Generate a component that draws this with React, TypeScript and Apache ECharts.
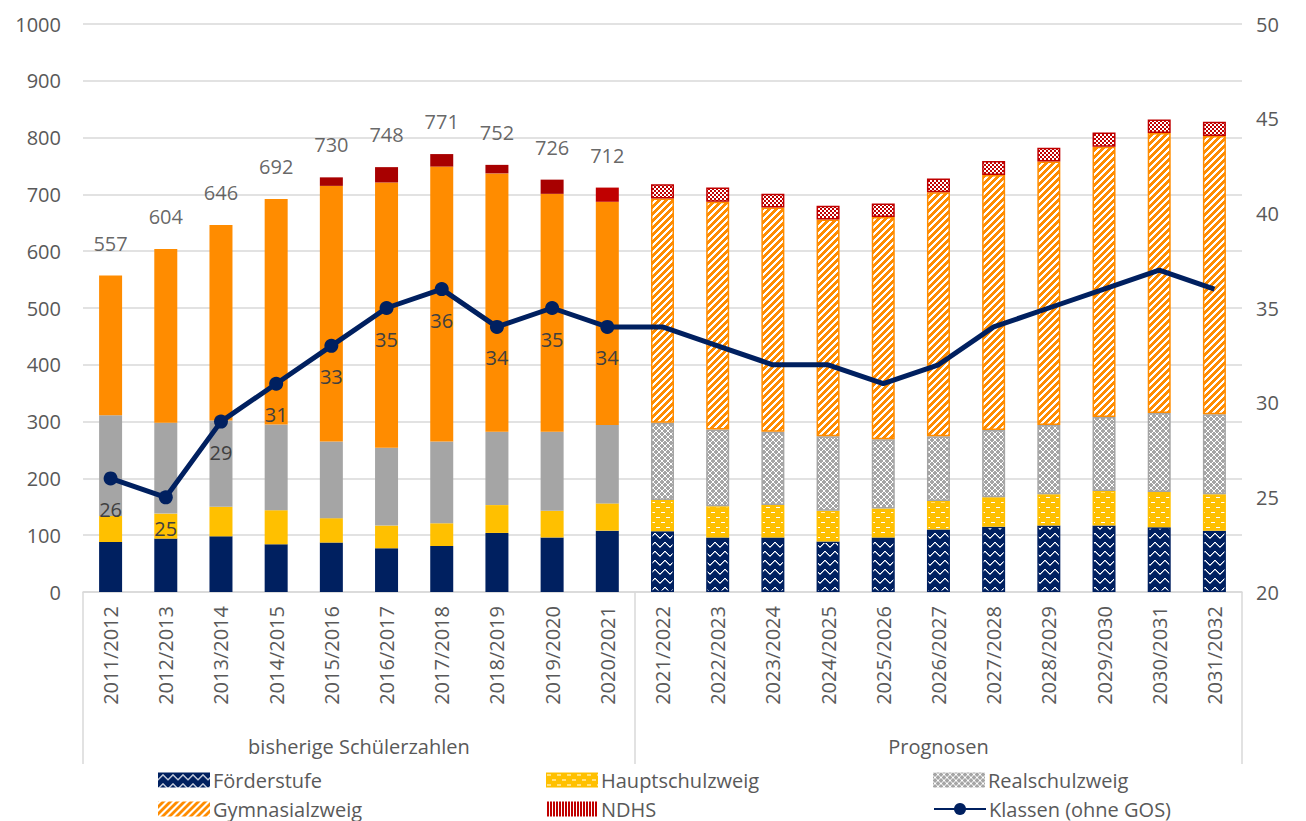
import React, { useEffect, useRef } from 'react';
import * as echarts from 'echarts';

const categories = [
  '2011/2012', '2012/2013', '2013/2014', '2014/2015', '2015/2016', '2016/2017', '2017/2018',
  '2018/2019', '2019/2020', '2020/2021', '2021/2022', '2022/2023', '2023/2024', '2024/2025',
  '2025/2026', '2026/2027', '2027/2028', '2028/2029', '2029/2030', '2030/2031', '2031/2032',
];
const foerderstufe = [88, 94, 98, 84, 87, 77, 81, 104, 96, 108, 107, 96, 96, 89, 96, 110, 115, 117, 117, 114, 108];
const hauptschulzweig = [46, 44, 52, 60, 43, 40, 40, 49, 47, 48, 55, 55, 57, 54, 51, 50, 52, 55, 61, 62, 64];
const realschulzweig = [177, 160, 152, 151, 135, 137, 144, 129, 139, 138, 136, 135, 129, 131, 122, 114, 118, 122, 130, 139, 141];
const gymnasialzweig = [246, 306, 344, 397, 450, 467, 484, 455, 419, 393, 395, 401, 395, 382, 391, 430, 449, 464, 476, 493, 490];
const ndhs = [0, 0, 0, 0, 15, 27, 22, 15, 25, 25, 25, 25, 24, 24, 24, 24, 25, 24, 25, 24, 25];
const klassen = [26, 25, 29, 31, 33, 35, 36, 34, 35, 34, 34, 33, 32, 32, 31, 32, 34, 35, 36, 37, 36];
const totalLabels = [557, 604, 646, 692, 730, 748, 771, 752, 726, 712];
const historicalCount = 10;
const groupLabels = ['bisherige Schülerzahlen', 'Prognosen'];
const seriesNames = ['Förderstufe', 'Hauptschulzweig', 'Realschulzweig', 'Gymnasialzweig', 'NDHS', 'Klassen (ohne GOS)'];

const FONT = "'Open Sans', 'Noto Sans', sans-serif";
const TEXT = '#595959';
const DARK = '#404040';
const GRID = '#D9D9D9';

function hex(c: string): number[] {
  const h = c.replace('#', '');
  return [parseInt(h.slice(0, 2), 16), parseInt(h.slice(2, 4), 16), parseInt(h.slice(4, 6), 16)];
}

function tile(w: number, h: number, bg: string, fg: string, isFg: (x: number, y: number) => boolean | string) {
  const c = document.createElement('canvas');
  c.width = w;
  c.height = h;
  const ctx = c.getContext('2d')!;
  const img = ctx.createImageData(w, h);
  const b = hex(bg);
  const f = hex(fg);
  for (let y = 0; y < h; y++) {
    for (let x = 0; x < w; x++) {
      const r = isFg(x, y);
      const col = typeof r === 'string' ? hex(r) : r ? f : b;
      const i = (y * w + x) * 4;
      img.data[i] = col[0];
      img.data[i + 1] = col[1];
      img.data[i + 2] = col[2];
      img.data[i + 3] = 255;
    }
  }
  ctx.putImageData(img, 0, 0);
  return { image: c.toDataURL(), repeat: 'repeat', imageWidth: w, imageHeight: h } as any;
}

export default function App() {
  const ref = useRef<HTMLDivElement>(null);
  useEffect(() => {
    document.body.style.margin = '0';
    const chart = echarts.init(ref.current!, null, { renderer: 'svg' });

    const navy = '#002060';
    const yellow = '#FFC000';
    const gray = '#A5A5A5';
    const orange = '#FF8C00';
    const red = '#C00000';
    const darkRed = '#A80000';

    const zig = [6, 5, 4, 3, 2, 2, 3, 4, 5, 6];
    const pF = tile(10, 9, navy, '#FFFFFF', (x, y) => (y === zig[x] ? true : y === zig[x] + 1 ? '#7F8FB0' : false));
    const pH = tile(10, 10, yellow, '#FFFFFF', (x, y) =>
      (y === 2 && x >= 1 && x <= 4) || (y === 7 && x >= 6 && x <= 9) ? true : false);
    const pR = tile(6, 6, gray, '#FFFFFF', (x, y) => (x + y) % 6 === 0 || (x - y + 6) % 6 === 3);
    const pG = tile(7, 7, orange, '#FFFFFF', (x, y) => (x + y) % 7 < 3);
    const pN = tile(4, 4, red, '#FFFFFF', (x, y) => (x < 2) !== (y < 2));
    const pNLegend = tile(3, 1, red, '#FFFFFF', (x) => x === 0);

    const barSeries = (name: string, values: number[], solid: (i: number) => string, pattern: any, border: string) => ({
      name,
      type: 'bar',
      stack: 'total',
      barWidth: 23,
      yAxisIndex: 0,
      itemStyle: { color: pattern, borderColor: border, borderWidth: 1.5 },
      data: values.map((v, i) =>
        i < historicalCount ? { value: v, itemStyle: { color: solid(i), borderWidth: 0 } } : v),
    });

    const legendBase = {
      orient: 'horizontal',
      itemWidth: 52,
      itemHeight: 15,
      itemGap: 0,
      padding: 0,
      selectedMode: false,
      textStyle: { fontSize: 20, fontFamily: FONT, color: TEXT, lineHeight: 22, padding: [0, 0, 0, -2] },
    };
    const legendPos = [
      { left: 158, top: 769 },
      { left: 546, top: 769 },
      { left: 933, top: 769 },
      { left: 158, top: 798 },
      { left: 546, top: 798 },
      { left: 933, top: 798 },
    ];

    const option: any = {
      animation: false,
      backgroundColor: '#FFFFFF',
      grid: { left: 83, right: 64, top: 24, bottom: 229, containLabel: false },
      legend: seriesNames.map((n, i) => ({
        ...legendBase,
        ...legendPos[i],
        data: [
          i === 5
            ? { name: n }
            : i === 4
              ? { name: n, icon: 'rect', itemStyle: { color: pNLegend, borderWidth: 0 } }
              : { name: n, icon: 'rect', itemStyle: { borderWidth: 0 } },
        ],
      })),
      xAxis: {
        type: 'category',
        data: categories,
        axisLine: { lineStyle: { color: GRID, width: 1.5 } },
        axisTick: {
          show: true,
          interval: (i: number) => i === 0 || i === historicalCount,
          length: 172,
          lineStyle: { color: GRID, width: 1.5 },
        },
        axisLabel: { rotate: 90, interval: 0, margin: 14, fontSize: 20, color: TEXT, fontFamily: FONT },
      },
      yAxis: [
        {
          type: 'value',
          min: 0,
          max: 1000,
          interval: 100,
          axisLine: { show: false },
          axisTick: { show: false },
          splitLine: { lineStyle: { color: GRID, width: 1.5 } },
          axisLabel: { margin: 22, fontSize: 20, color: TEXT, fontFamily: FONT, formatter: (v: number) => String(v) },
        },
        {
          type: 'value',
          min: 20,
          max: 50,
          interval: 5,
          position: 'right',
          alignTicks: false,
          axisLine: { show: false },
          axisTick: { show: false },
          splitLine: { show: false },
          axisLabel: { margin: 14, fontSize: 20, color: TEXT, fontFamily: FONT, formatter: (v: number) => String(v) },
        },
      ],
      series: [
        barSeries(seriesNames[0], foerderstufe, () => navy, pF, navy),
        barSeries(seriesNames[1], hauptschulzweig, () => yellow, pH, yellow),
        barSeries(seriesNames[2], realschulzweig, () => gray, pR, gray),
        barSeries(seriesNames[3], gymnasialzweig, () => orange, pG, orange),
        barSeries(seriesNames[4], ndhs, (i) => (i === historicalCount - 1 ? red : darkRed), pN, red),
        {
          name: 'Summe',
          type: 'scatter',
          yAxisIndex: 0,
          symbolSize: 1,
          itemStyle: { color: 'rgba(0,0,0,0)' },
          label: { show: true, position: 'top', distance: 22, fontSize: 20, color: DARK, fontFamily: FONT },
          data: totalLabels,
          z: 5,
        },
        {
          name: seriesNames[5],
          type: 'line',
          yAxisIndex: 1,
          symbol: 'circle',
          symbolSize: 14,
          lineStyle: { color: navy, width: 5 },
          itemStyle: { color: navy },
          label: { show: true, position: 'bottom', distance: 14, fontSize: 20, color: DARK, fontFamily: FONT },
          data: klassen.map((v, i) =>
            i < historicalCount ? v : { value: v, symbol: 'none', label: { show: false } }),
          z: 10,
        },
      ],
    };
    chart.setOption(option);

    const px = (c: string) => chart.convertToPixel({ xAxisIndex: 0 }, c) as number;
    const g1 = (px(categories[0]) + px(categories[historicalCount - 1])) / 2;
    const g2 = (px(categories[historicalCount]) + px(categories[categories.length - 1])) / 2;
    const groupText = (x: number, text: string) => ({
      type: 'text',
      x,
      y: 746,
      style: {
        text,
        fontSize: 20,
        fontFamily: FONT,
        fill: TEXT,
        align: 'center',
        verticalAlign: 'middle',
        textAlign: 'center',
        textVerticalAlign: 'middle',
      },
    });
    chart.setOption({ graphic: [groupText(g1, groupLabels[0]), groupText(g2, groupLabels[1])] });

    return () => chart.dispose();
  }, []);
  return <div ref={ref} style={{ width: 1306, height: 821 }} />;
}
